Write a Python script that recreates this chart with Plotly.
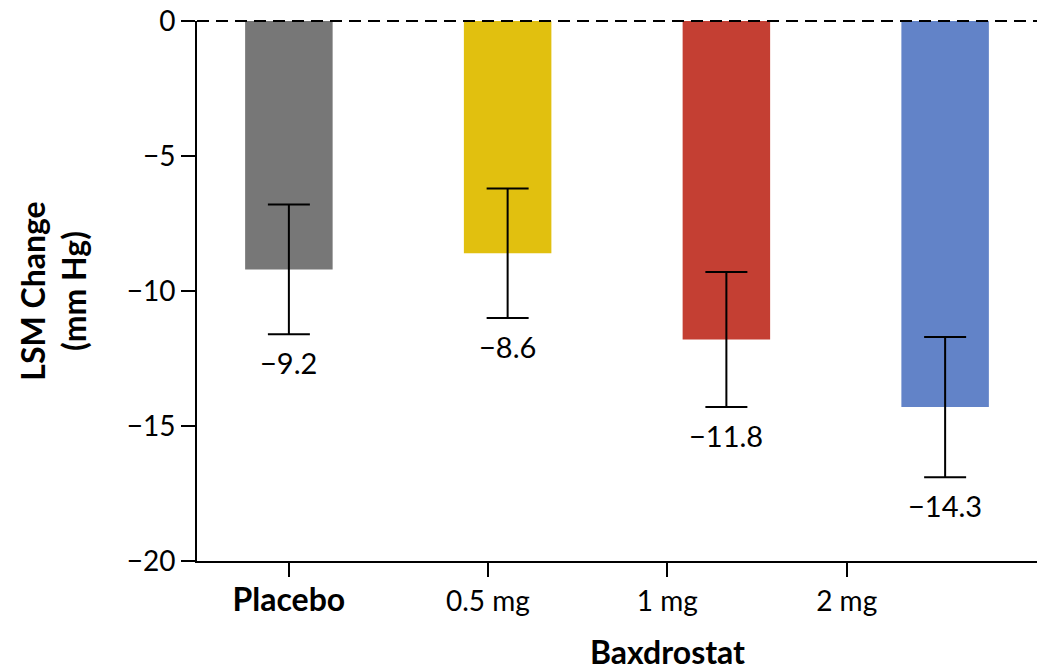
import plotly.graph_objects as go

categories = ["Placebo", "0.5 mg", "1 mg", "2 mg"]
tick_labels = ["<span style='font-size:32px'><b>Placebo</b></span>", "0.5 mg", "1 mg", "2 mg"]
values = [-9.2, -8.6, -11.8, -14.3]
errors = [2.4, 2.4, 2.5, 2.6]
value_labels = ["\u22129.2", "\u22128.6", "\u221211.8", "\u221214.3"]
colors = ["#777777", "#E1C00F", "#C43F33", "#6283C8"]
# label positions as drawn in the source (offset from bar centres)
tick_positions = [0, 0.91, 1.73, 2.55]
bar_positions = list(range(len(categories)))

FONT = "Lato"

fig = go.Figure()
fig.add_trace(go.Bar(
    x=bar_positions, y=values, width=0.4,
    marker=dict(color=colors, line=dict(width=0)),
    error_y=dict(type="data", array=errors, visible=True,
                 color="black", thickness=2, width=21),
    hoverinfo="skip", showlegend=False,
))

for xi, v, e, t in zip(bar_positions, values, errors, value_labels):
    fig.add_annotation(x=xi, y=v - e, text=t, showarrow=False,
                       yanchor="top", yshift=-9,
                       font=dict(family=FONT, size=29, color="black"))

fig.add_annotation(x=tick_positions[2], y=0, xref="x", yref="paper",
                   text="<b>Baxdrostat</b>", showarrow=False,
                   yanchor="middle", yshift=-90,
                   font=dict(family=FONT, size=32, color="black"))

# dashed reference line at y = 0 (top edge of the plotting area)
fig.add_shape(type="line", xref="paper", yref="paper", x0=0, x1=1, y0=1, y1=1,
              line=dict(color="black", width=2, dash="12px,7px"), layer="above")

fig.update_layout(
    width=1037, height=672,
    margin=dict(l=197, r=0, t=21, b=111),
    paper_bgcolor="white", plot_bgcolor="white",
    font=dict(family=FONT, size=28, color="black"),
    xaxis=dict(range=[-0.42, 3.42], tickmode="array", tickvals=tick_positions,
               ticktext=tick_labels, showline=True, linecolor="black", linewidth=2,
               ticks="outside", ticklen=14, tickwidth=2, tickcolor="black",
               showgrid=False, zeroline=False, fixedrange=True,
               automargin=False, ticklabeloverflow="allow"),
    yaxis=dict(range=[-20, 0], tickmode="array", tickvals=[0, -5, -10, -15, -20],
               showline=True, linecolor="black", linewidth=2,
               ticks="outside", ticklen=14, tickwidth=2, tickcolor="black",
               showgrid=False, zeroline=False, fixedrange=True,
               automargin=False, ticklabeloverflow="allow",
               title=dict(text="<b>LSM Change<br>(mm Hg)</b>", standoff=30,
                          font=dict(family=FONT, size=32))),
)

fig.write_html("out.html",
               config={"displayModeBar": False},
               post_script="document.body.style.margin='0';"
                           "document.body.style.overflow='hidden';")
